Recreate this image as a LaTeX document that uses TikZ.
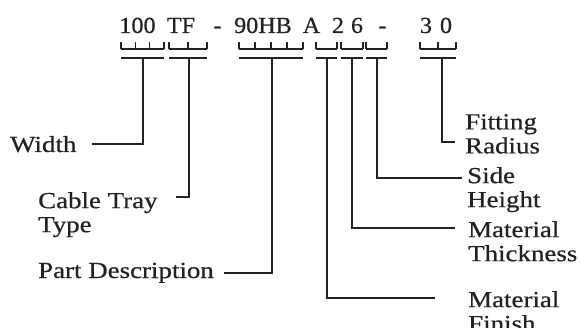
\documentclass[tikz,border=0pt]{standalone}
\usepackage{fontspec}
\setmainfont{Liberation Serif}[FakeStretch=1.17,FakeBold=0.6]
\newfontfamily\codefont{Liberation Serif}[FakeStretch=1.05,FakeBold=0.6]
\usepackage{xcolor}
\definecolor{cInk}{HTML}{222222}
\usetikzlibrary{positioning,calc}
\tikzset{
  code-char/.style={inner sep=0pt,anchor=base,text=cInk,
    font=\codefont\fontsize{23}{24}\selectfont},
  lbl-text/.style={inner sep=0pt,align=left,text=cInk,
    font=\fontsize{23}{24}\selectfont},
  cup-line/.style={line width=1.5pt,draw=cInk},
  lead-line/.style={line width=1.7pt,draw=cInk},
}
\begin{document}
\begin{tikzpicture}[x=1pt,y=-1pt]
  \useasboundingbox (0,0) rectangle (580,328);
  % the catalogue number
  \foreach \t/\x [count=\i] in {100/137.5,TF/181,-/217.5,90HB/263,A/311.5,%
    2/338,6/357,-/382.5,3/426,0/446}
    \node[code-char] (ch-\i) at (\x,33) {\t};
  % one cup per character, a bar and a stem per field
  \foreach \xl/\xr/\nc/\xs/\id in {121/164/3/143/wd,169/207/2/189/tf,%
    239/303/4/272/pd,316/337/1/327/mf,341/363/1/352/mt,366/387/1/377/sh,%
    420/456/2/442/fr}{
    \pgfmathsetmacro{\cw}{(\xr-\xl)/\nc}
    \draw[cup-line] (\xl,49) -- (\xr,49);
    \foreach \k in {0,...,\nc}
      \draw[cup-line] (\xl+\k*\cw,42) -- (\xl+\k*\cw,49);
    \draw[cup-line] (\xl,58) -- (\xr,58);
    \coordinate (s-\id) at (\xs,58);
  }
  % labels
  \node[lbl-text,anchor=base west]  (wd) at (10,152)  {Width};
  \node[lbl-text,anchor=north west] (tf) at (38,192)  {Cable Tray\\Type};
  \node[lbl-text,anchor=base west]  (pd) at (38,278)  {Part Description};
  \node[lbl-text,anchor=north west] (fr) at (465,114) {Fitting\\Radius};
  \node[lbl-text,anchor=north west] (sh) at (467,167) {Side\\Height};
  \node[lbl-text,anchor=north west] (mt) at (468,221) {Material\\Thickness};
  \node[lbl-text,anchor=north west] (mf) at (468,291) {Material\\Finish};
  % leaders
  \draw[lead-line] (s-wd) |- ([xshift=15pt]wd.east);
  \draw[lead-line] (s-tf) |- ([xshift=18pt,yshift=-5pt]tf.north east);
  \draw[lead-line] (s-pd) |- ([xshift=10pt]pd.east);
  \draw[lead-line] (s-fr) |- ([xshift=-10pt,yshift=-28pt]fr.north west);
  \draw[lead-line] (s-sh) |- ([xshift=-5pt,yshift=-11pt]sh.north west);
  \draw[lead-line] (s-mt) |- ([xshift=-13pt,yshift=-7pt]mt.north west);
  \draw[lead-line] (s-mf) |- ([xshift=-33pt,yshift=-7pt]mf.north west);
\end{tikzpicture}
\end{document}
